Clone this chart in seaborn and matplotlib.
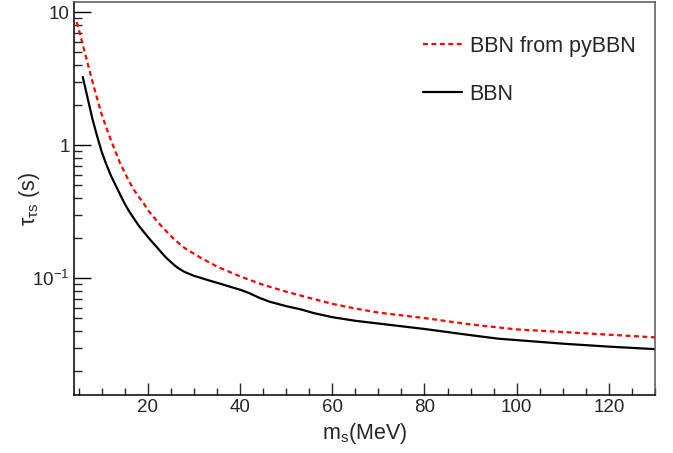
import matplotlib
matplotlib.use("Agg")
import matplotlib.pyplot as plt
import seaborn as sns
import pandas as pd
from matplotlib.ticker import FixedLocator, MultipleLocator, FixedFormatter, NullFormatter, LogLocator

# BBN from pyBBN (red dashed)
mass_pybbn = [4.6, 5, 6, 7, 8, 9, 10, 11, 12, 13, 14, 15, 16, 17, 18, 19, 20, 21, 22, 23, 24,
              25.7, 28, 31.5, 35, 40, 45, 50, 55, 60, 65, 70, 80, 90, 100, 110, 120, 130]
tau_pybbn = [8.4, 7.5, 5.5, 4.05, 3.0, 2.25, 1.70, 1.35, 1.09, 0.89, 0.73, 0.62, 0.53, 0.46, 0.41,
             0.37, 0.325, 0.295, 0.268, 0.245, 0.225, 0.196, 0.168, 0.142, 0.122, 0.103, 0.089,
             0.079, 0.071, 0.064, 0.059, 0.055, 0.050, 0.0448, 0.0411, 0.0393, 0.0375, 0.0358]

# BBN (black solid)
mass_bbn = [5.9, 6, 7, 8, 9, 10, 11, 12, 13, 14, 15, 16, 17, 18, 19, 20, 21, 22, 23, 24, 25,
            26, 27, 28, 30, 33, 36, 40.2, 42, 44, 46.4, 50, 53.3, 56, 60, 65, 70, 80, 90, 96,
            110, 120, 130]
tau_bbn = [3.25, 3.14, 2.22, 1.57, 1.17, 0.89, 0.716, 0.59, 0.50, 0.425, 0.362, 0.316, 0.28,
           0.249, 0.225, 0.204, 0.186, 0.170, 0.155, 0.142, 0.132, 0.123, 0.1165, 0.111, 0.104,
           0.0966, 0.090, 0.0813, 0.077, 0.0715, 0.0664, 0.0615, 0.058, 0.0545, 0.0508, 0.0477,
           0.0455, 0.0414, 0.0372, 0.0350, 0.0321, 0.0305, 0.0292]

legend_labels = ["BBN from pyBBN", "BBN"]
ytick_values = [0.1, 1, 10]
ytick_labels = [r"$\mathregular{10^{-1}}$", "1", "10"]
xtick_values = [20, 40, 60, 80, 100, 120]

sns.set_style("ticks")
plt.rcParams["font.family"] = ["Liberation Sans", "DejaVu Sans"]
plt.rcParams["mathtext.fontset"] = "custom"
plt.rcParams["mathtext.rm"] = "Liberation Sans"
plt.rcParams["mathtext.it"] = "Liberation Sans:italic"
plt.rcParams["mathtext.bf"] = "Liberation Sans:bold"

df_py = pd.DataFrame({"m": mass_pybbn, "tau": tau_pybbn})
df_bb = pd.DataFrame({"m": mass_bbn, "tau": tau_bbn})

fig = plt.figure(figsize=(6.73, 4.53), dpi=100)
ax = fig.add_axes([74 / 673, 1 - 395 / 453, (655 - 74) / 673, (395 - 2) / 453])

sns.lineplot(data=df_py, x="m", y="tau", ax=ax, color="#ff0000", linewidth=1.6,
             linestyle=(0, (2.2, 1.6)), label=legend_labels[0], sort=False, estimator=None)
sns.lineplot(data=df_bb, x="m", y="tau", ax=ax, color="black", linewidth=1.6,
             label=legend_labels[1], sort=False, estimator=None)

ax.set_yscale("log")
ax.set_xlim(4, 130)
ax.set_ylim(0.0132, 11.9)

ax.xaxis.set_major_locator(FixedLocator(xtick_values))
ax.xaxis.set_minor_locator(MultipleLocator(5))
ax.yaxis.set_major_locator(FixedLocator(ytick_values))
ax.yaxis.set_major_formatter(FixedFormatter(ytick_labels))
ax.yaxis.set_minor_locator(LogLocator(base=10, subs=range(2, 10)))
ax.yaxis.set_minor_formatter(NullFormatter())

ax.tick_params(axis="y", which="major", direction="in", length=12, width=1, labelsize=13.5, pad=3,
               left=True, right=False, color="black")
ax.tick_params(axis="y", which="minor", direction="in", length=6, width=1, left=True, right=False)
ax.tick_params(axis="x", which="major", direction="in", length=8.5, width=1, labelsize=13.5, pad=3,
               bottom=True, top=False)
ax.tick_params(axis="x", which="minor", direction="in", length=5, width=1, bottom=True, top=False)

for s in ax.spines.values():
    s.set_visible(True)
    s.set_linewidth(1.1)
    s.set_color("black")
ax.spines["top"].set_color("#555555")
ax.spines["right"].set_color("#555555")

ax.set_xlabel(r"$\mathregular{m_s}$(MeV)", fontsize=15.5)
ax.set_ylabel(r"$\mathregular{\tau_{\tau s}}$ (s)", fontsize=15.5)
ax.xaxis.set_label_coords(0.5, -0.065)
ax.yaxis.set_label_coords(-0.055, 0.5)

leg = ax.legend(loc="upper left", bbox_to_anchor=(423 / 673, 1 - 36 / 453),
                bbox_transform=fig.transFigure, frameon=False, fontsize=15.5,
                handlelength=1.8, handletextpad=0.36, labelspacing=1.25,
                borderpad=0, borderaxespad=0)

fig.savefig("out.png", dpi=100)
